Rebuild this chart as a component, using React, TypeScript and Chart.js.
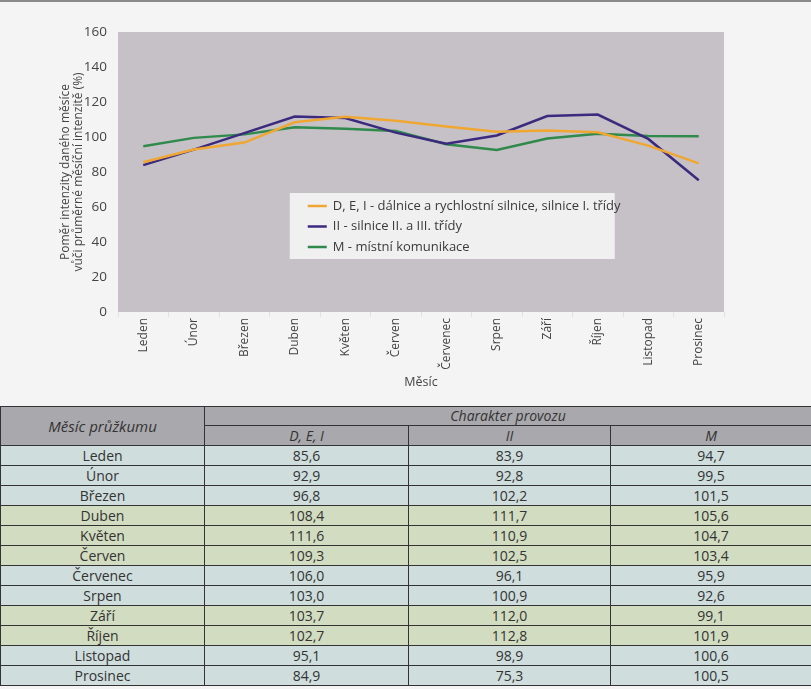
import React, { useEffect, useRef } from "react";
import { Chart, registerables } from "chart.js";

Chart.register(...registerables);

const months = ["Leden", "Únor", "Březen", "Duben", "Květen", "Červen", "Červenec", "Srpen", "Září", "Říjen", "Listopad", "Prosinec"];
const seriesDEI = [85.6, 92.9, 96.8, 108.4, 111.6, 109.3, 106.0, 103.0, 103.7, 102.7, 95.1, 84.9];
const seriesII = [83.9, 92.8, 102.2, 111.7, 110.9, 102.5, 96.1, 100.9, 112.0, 112.8, 98.9, 75.3];
const seriesM = [94.7, 99.5, 101.5, 105.6, 104.7, 103.4, 95.9, 92.6, 99.1, 101.9, 100.6, 100.5];
const seriesLabels = ["D, E, I - dálnice a rychlostní silnice, silnice I. třídy", "II - silnice II. a III. třídy", "M - místní komunikace"];
const columnHeads = ["D, E, I", "II", "M"];
const rowGroup = ["b", "b", "b", "g", "g", "g", "b", "b", "g", "g", "b", "b"];
const yTitle = ["Poměr intenzity daného měsíce", "vůči průměrné měsíční intenzitě (%)"];

const FONT = "'Open Sans', 'Noto Sans', sans-serif";
const NARROW = "'Liberation Sans Narrow', 'Open Sans', sans-serif";

const bgPlugin = {
  id: "plotBg",
  beforeDatasetsDraw(chart: any) {
    const { ctx, chartArea } = chart;
    ctx.save();
    ctx.fillStyle = "#c6c1c7";
    ctx.fillRect(chartArea.left, chartArea.top, chartArea.right - chartArea.left, chartArea.bottom - chartArea.top);
    ctx.restore();
  },
};

const legendPlugin = {
  id: "boxLegend",
  afterDatasetsDraw(chart: any) {
    const { ctx } = chart;
    const x0 = chart.scales.x.getPixelForValue(3) - 5;
    const y0 = chart.scales.y.getPixelForValue(68);
    ctx.save();
    ctx.fillStyle = "#f1f0f1";
    ctx.fillRect(x0, y0, 325, 66);
    ctx.font = `13px ${FONT}`;
    ctx.textBaseline = "middle";
    chart.data.datasets.forEach((ds: any, i: number) => {
      const y = y0 + 13 + i * 20.5;
      ctx.strokeStyle = ds.borderColor;
      ctx.lineWidth = 2.5;
      ctx.beginPath();
      ctx.moveTo(x0 + 18, y);
      ctx.lineTo(x0 + 37, y);
      ctx.stroke();
      ctx.fillStyle = "#3a3a3a";
      ctx.fillText(ds.label, x0 + 43, y);
    });
    ctx.restore();
  },
};

function ChartView() {
  const ref = useRef<HTMLCanvasElement | null>(null);
  useEffect(() => {
    if (!ref.current) return;
    const chart = new Chart(ref.current, {
      type: "line",
      data: {
        labels: months,
        datasets: [
          { label: seriesLabels[0], data: seriesDEI, borderColor: "#f0a732", borderWidth: 2.5, pointRadius: 0, tension: 0 },
          { label: seriesLabels[1], data: seriesII, borderColor: "#3b2a7e", borderWidth: 2.5, pointRadius: 0, tension: 0 },
          { label: seriesLabels[2], data: seriesM, borderColor: "#2f8a4c", borderWidth: 2.5, pointRadius: 0, tension: 0 },
        ],
      },
      options: {
        animation: false,
        responsive: false,
        layout: { padding: { left: 59, right: 87, top: 30, bottom: 10 } },
        plugins: { legend: { display: false }, tooltip: { enabled: false } },
        scales: {
          x: {
            type: "category",
            offset: true,
            grid: { offset: true, drawOnChartArea: false, color: "#e2e2e2", tickLength: 5 },
            border: { display: false },
            ticks: { minRotation: 90, maxRotation: 90, autoSkip: false, color: "#444", font: { family: FONT, size: 12 }, padding: 1 },
            title: { display: true, text: "Měsíc", color: "#444", font: { family: FONT, size: 12.5 }, padding: { top: 0, bottom: 2 } },
            afterFit(scale: any) { scale.height = 80; },
          },
          y: {
            min: 0,
            max: 160,
            grid: { display: false },
            border: { display: false },
            ticks: { stepSize: 20, color: "#444", font: { family: FONT, size: 13.5 }, padding: 3 },
            title: { display: true, text: yTitle, color: "#444", font: { family: FONT, size: 12, lineHeight: 1.1 }, padding: { top: 0, bottom: 0 } },
            afterFit(scale: any) { scale.width = 59; },
          },
        },
      },
      plugins: [bgPlugin, legendPlugin],
    } as any);
    return () => chart.destroy();
  }, []);
  return <canvas ref={ref} width={811} height={400} style={{ position: "absolute", left: 0, top: 0, width: 811, height: 400 }} />;
}

const fmt = (v: number) => v.toFixed(1).replace(".", ",");

export default function App() {
  useEffect(() => {
    document.body.style.margin = "0";
  }, []);
  const cell: React.CSSProperties = { border: "1px solid #333", padding: 0, textAlign: "center", color: "#333", lineHeight: "18px", height: 20, boxSizing: "border-box" };
  const headBg = "#a9a8ac";
  return (
    <div style={{ position: "absolute", left: 0, top: 0, width: 811, height: 689, background: "#f4f4f4", borderTop: "2px solid #8a8a8a", boxSizing: "border-box", overflow: "hidden" }}>
      <ChartView />
      <table style={{ position: "absolute", left: 0, top: 404, width: 811, borderCollapse: "collapse", tableLayout: "fixed", fontFamily: NARROW, fontSize: 14 }}>
        <colgroup>
          <col style={{ width: 204 }} />
          <col style={{ width: 204 }} />
          <col style={{ width: 202 }} />
          <col style={{ width: 201 }} />
        </colgroup>
        <thead>
          <tr>
            <td rowSpan={2} style={{ ...cell, background: headBg, fontStyle: "italic", fontSize: 15 }}>Měsíc průžkumu</td>
            <td colSpan={3} style={{ ...cell, height: 19, background: headBg, fontStyle: "italic" }}>Charakter provozu</td>
          </tr>
          <tr>
            {columnHeads.map((h) => (
              <td key={h} style={{ ...cell, background: headBg, fontStyle: "italic" }}>{h}</td>
            ))}
          </tr>
        </thead>
        <tbody>
          {months.map((m, i) => {
            const bg = rowGroup[i] === "g" ? "#d2dcc0" : "#cfdddd";
            return (
              <tr key={m}>
                <td style={{ ...cell, background: bg }}>{m}</td>
                <td style={{ ...cell, background: bg }}>{fmt(seriesDEI[i])}</td>
                <td style={{ ...cell, background: bg }}>{fmt(seriesII[i])}</td>
                <td style={{ ...cell, background: bg }}>{fmt(seriesM[i])}</td>
              </tr>
            );
          })}
        </tbody>
      </table>
    </div>
  );
}
